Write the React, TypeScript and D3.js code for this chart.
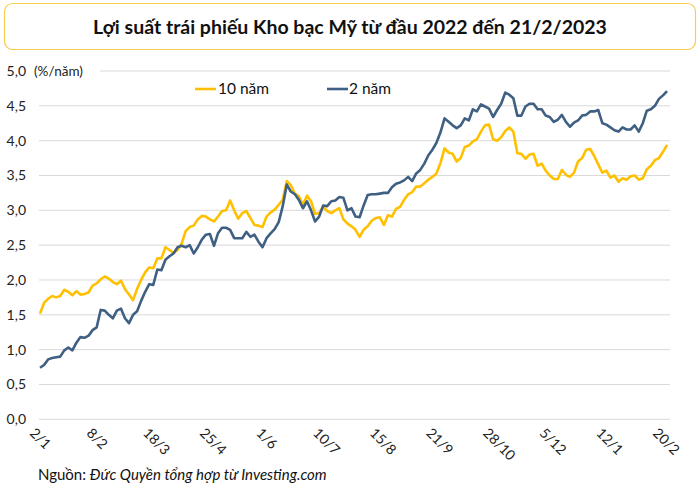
import React from "react";
import * as d3 from "d3";

const title = "Lợi suất trái phiếu Kho bạc Mỹ từ đầu 2022 đến 21/2/2023";
const unitLabel = "(%/năm)";
const seriesNames = ["10 năm", "2 năm"];
const yTicks = [0, 0.5, 1, 1.5, 2, 2.5, 3, 3.5, 4, 4.5, 5];
const xTickLabels = ["2/1", "8/2", "18/3", "25/4", "1/6", "10/7", "15/8", "21/9", "28/10", "5/12", "12/1", "20/2"];
const xTickStep = 14;

const yield10 = [
  1.52, 1.67, 1.73, 1.77, 1.75, 1.77, 1.86, 1.83, 1.78, 1.84,
  1.79, 1.80, 1.82, 1.92, 1.95, 2.01, 2.05, 2.02, 1.97, 1.94,
  1.99, 1.87, 1.79, 1.71, 1.87, 2.00, 2.11, 2.18, 2.17, 2.31,
  2.31, 2.47, 2.43, 2.39, 2.43, 2.52, 2.70, 2.76, 2.78, 2.87,
  2.92, 2.91, 2.87, 2.84, 2.91, 2.99, 3.00, 3.14, 3.00, 2.88,
  2.96, 2.99, 2.89, 2.79, 2.78, 2.76, 2.91, 2.97, 3.01, 3.08,
  3.15, 3.42, 3.36, 3.24, 3.20, 3.08, 3.21, 3.13, 2.95, 2.96,
  3.05, 2.99, 2.96, 3.00, 3.03, 2.87, 2.81, 2.77, 2.72, 2.62,
  2.72, 2.77, 2.85, 2.89, 2.90, 2.79, 2.93, 2.91, 3.02, 3.05,
  3.15, 3.23, 3.26, 3.34, 3.34, 3.39, 3.44, 3.48, 3.53, 3.68,
  3.89, 3.83, 3.81, 3.70, 3.75, 3.91, 3.93, 3.99, 4.02, 4.13,
  4.22, 4.23, 4.02, 4.00, 4.05, 4.14, 4.19, 4.13, 3.82, 3.81,
  3.74, 3.80, 3.81, 3.64, 3.67, 3.57, 3.50, 3.45, 3.45, 3.58,
  3.51, 3.48, 3.54, 3.70, 3.75, 3.87, 3.88, 3.78, 3.66, 3.54,
  3.57, 3.47, 3.50, 3.41, 3.46, 3.44, 3.49, 3.50, 3.44, 3.46,
  3.59, 3.64, 3.72, 3.75, 3.84, 3.94,
];

const yield2 = [
  0.74, 0.78, 0.86, 0.88, 0.89, 0.90, 0.99, 1.03, 0.99, 1.10,
  1.18, 1.17, 1.20, 1.28, 1.32, 1.57, 1.56, 1.50, 1.45, 1.56,
  1.59, 1.45, 1.38, 1.50, 1.55, 1.70, 1.83, 1.94, 1.93, 2.15,
  2.14, 2.29, 2.34, 2.38, 2.47, 2.49, 2.47, 2.50, 2.38, 2.47,
  2.58, 2.65, 2.66, 2.49, 2.67, 2.75, 2.75, 2.72, 2.60, 2.60,
  2.60, 2.69, 2.62, 2.65, 2.55, 2.47, 2.60, 2.67, 2.73, 2.83,
  3.06, 3.37, 3.27, 3.23, 3.15, 3.03, 3.13, 3.00, 2.84, 2.91,
  3.07, 3.06, 3.13, 3.14, 3.19, 3.18, 3.00, 3.03, 2.91, 2.90,
  3.07, 3.22, 3.23, 3.23, 3.24, 3.25, 3.25, 3.33, 3.38, 3.40,
  3.43, 3.48, 3.42, 3.53, 3.58, 3.67, 3.79, 3.87, 3.97, 4.12,
  4.32, 4.27, 4.22, 4.18, 4.22, 4.32, 4.29, 4.45, 4.42, 4.52,
  4.49, 4.46, 4.34, 4.44, 4.53, 4.69, 4.66, 4.61, 4.36, 4.36,
  4.49, 4.53, 4.53, 4.45, 4.45, 4.36, 4.34, 4.27, 4.30, 4.37,
  4.27, 4.20, 4.26, 4.29, 4.36, 4.37, 4.42, 4.42, 4.44, 4.25,
  4.23, 4.19, 4.15, 4.13, 4.19, 4.16, 4.16, 4.22, 4.13, 4.25,
  4.43, 4.45, 4.50, 4.60, 4.65, 4.71,
];

const COLOR_10 = "#FFC000";
const COLOR_2 = "#3F6083";
const FONT = "Lato, 'Open Sans', sans-serif";

export default function App() {
  const x = d3.scaleLinear().domain([0, xTickStep * (xTickLabels.length - 1)]).range([40, 663]);
  const y = d3.scaleLinear().domain([0, 5]).range([419.3, 71]);
  const line = d3
    .line<number>()
    .x((_, i) => x(i))
    .y((d) => y(d));

  return (
    <svg
      width={700}
      height={490}
      style={{ position: "absolute", left: 0, top: 0, background: "#fff" }}
      fontFamily={FONT}
    >
      <rect x={0} y={0} width={700} height={490} fill="#fff" />
      <rect x={4.5} y={3.5} width={691} height={46} rx={8} ry={8} fill="#fff" stroke="#F7CD4F" strokeWidth={1.2} />
      <text x={350} y={34} textAnchor="middle" fontSize={19.5} fontWeight={700} fill="#111">
        {title}
      </text>

      {yTicks.map((t) => (
        <g key={t}>
          {t !== 5 ? (
            <line x1={39} x2={670} y1={y(t)} y2={y(t)} stroke="#D9D9D9" strokeWidth={1} />
          ) : (
            <line x1={100} x2={670} y1={y(t)} y2={y(t)} stroke="#D9D9D9" strokeWidth={1} />
          )}
          <text x={26} y={y(t)} dy="0.35em" textAnchor="end" fontSize={14} fill="#222">
            {d3.format(".1f")(t).replace(".", ",")}
          </text>
        </g>
      ))}
      <text x={34} y={y(5)} dy="0.35em" fontSize={13.5} fill="#222">
        {unitLabel}
      </text>

      {xTickLabels.map((lab, i) => (
        <text
          key={lab}
          transform={`translate(${x(i * xTickStep) - 3},${426}) rotate(45)`}
          dy="0.8em"
          fontSize={14}
          fill="#222"
        >
          {lab}
        </text>
      ))}

      <path d={line(yield10) || ""} fill="none" stroke={COLOR_10} strokeWidth={2.6} strokeLinejoin="round" />
      <path d={line(yield2) || ""} fill="none" stroke={COLOR_2} strokeWidth={2.6} strokeLinejoin="round" />

      <line x1={195} x2={216} y1={89} y2={89} stroke={COLOR_10} strokeWidth={2.6} />
      <text x={218} y={89} dy="0.35em" fontSize={15.5} fill="#111">
        {seriesNames[0]}
      </text>
      <line x1={327} x2={348} y1={89} y2={89} stroke={COLOR_2} strokeWidth={2.6} />
      <text x={349} y={89} dy="0.35em" fontSize={15.5} fill="#111">
        {seriesNames[1]}
      </text>

      <text x={38} y={480} fontSize={15} fill="#111">
        {"Nguồn: "}
        <tspan fontStyle="italic">Đức Quyền tổng hợp từ Investing.com</tspan>
      </text>
    </svg>
  );
}
